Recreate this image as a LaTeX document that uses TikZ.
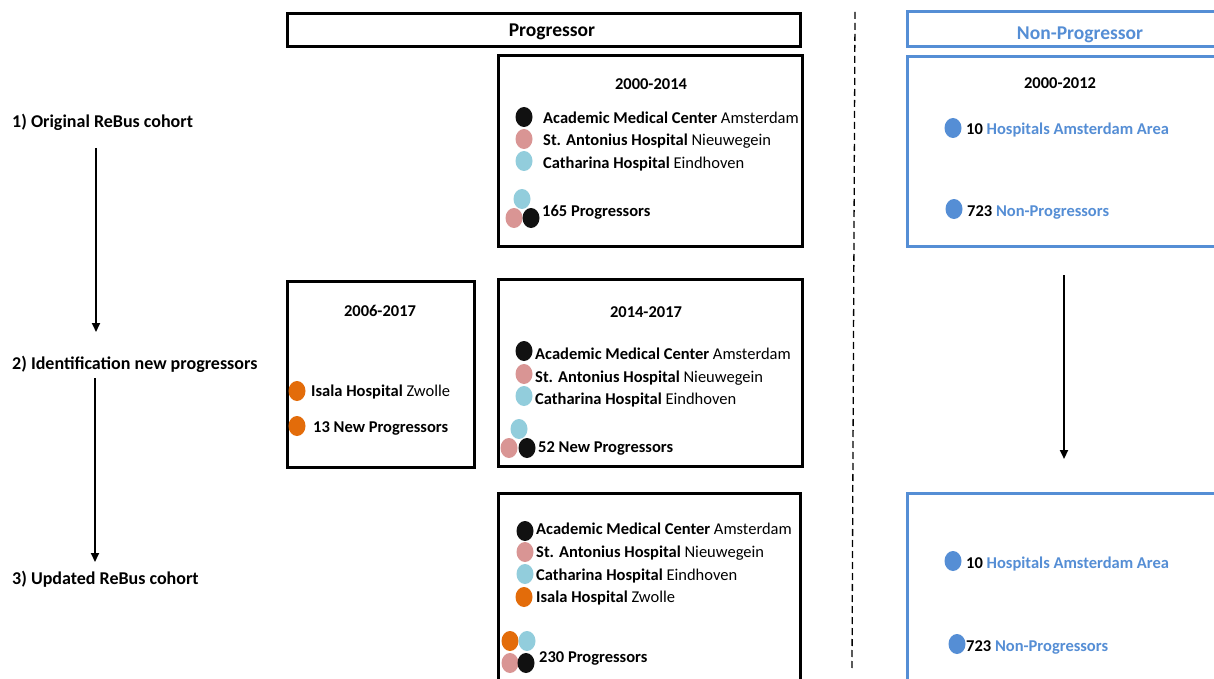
\documentclass[tikz,border=0pt]{standalone}
\usepackage{fontspec}
\setmainfont{Carlito}
\usetikzlibrary{arrows.meta,shapes.geometric}
\definecolor{amcblack}{HTML}{111111}
\definecolor{antpink}{HTML}{D99594}
\definecolor{catblue}{HTML}{92CDDC}
\definecolor{isaorange}{HTML}{E36C0A}
\definecolor{npblue}{HTML}{558ED5}
\newcommand{\bodyfont}{\fontsize{16.5}{19}\selectfont}
\newcommand{\headfont}{\fontsize{19.5}{22}\selectfont\bfseries}
\tikzset{
  frame/.style={draw=black, line width=3pt},
  npframe/.style={draw=npblue, line width=3pt},
  dot/.style={ellipse, minimum width=17pt, minimum height=20pt, inner sep=0pt, draw=none},
  txt/.style={anchor=west, inner sep=0pt, font=\bodyfont, text height=0.8em, text depth=0pt, yshift=-2.5pt},
  btxt/.style={txt, font=\bodyfont\bfseries},
  ctxt/.style={btxt, anchor=center},
  steplabel/.style={txt, font=\fontsize{18}{21}\selectfont\bfseries},
  flow/.style={line width=2pt, -{Triangle[length=9pt,width=8pt]}},
}
\begin{document}
\begin{tikzpicture}[x=1pt,y=-1pt]
\useasboundingbox (0,0) rectangle (1214,679);
\clip (0,0) rectangle (1214,679);
\fill[white] (0,0) rectangle (1214,679);

% ---- step labels and the arrows between them ----
\node[steplabel] (s1) at (12,121) {1) Original ReBus cohort};
\node[steplabel] (s2) at (12,363) {2) Identification new progressors};
\node[steplabel] (s3) at (12,578) {3) Updated ReBus cohort};
\coordinate (a1s) at (96,148);
\coordinate (a1e) at (96,332);
\coordinate (a2s) at (95,378);
\coordinate (a2e) at (95,562);
\draw[flow] (a1s) -- (a1e);
\draw[flow] (a2s) -- (a2e);

% ---- column headers ----
\node[frame, minimum width=513pt, minimum height=33pt, inner sep=0pt] (hp) at (543.5,30.5) {};
\node[ctxt, font=\headfont] (hptxt) at (552,30) {Progressor};
\node[npframe, minimum width=320pt, minimum height=35pt, inner sep=0pt] (hn) at (1067,29.5) {};
\node[ctxt, font=\headfont, text=npblue] (hntxt) at (1080,33) {Non-Progressor};

% ---- separator ----
\coordinate (sepTop) at (855,12);
\coordinate (sepBot) at (852,668);
\draw[line width=1.3pt, dash pattern=on 7pt off 4pt] (sepTop) -- (sepBot);

% ---- progressor box 2000-2014 ----
\draw[frame] (498,56) rectangle (802,246);
\node[ctxt] (y1) at (651,83) {2000-2014};
\node[dot, fill=amcblack] (b1a) at (524,117) {};
\node[dot, fill=antpink] (b1b) at (524,139) {};
\node[dot, fill=catblue] (b1c) at (524,161) {};
\node[txt] (t1a) at (543,117) {\textbf{Academic Medical Center} Amsterdam};
\node[txt] (t1b) at (543,139) {\textbf{St. Antonius Hospital} Nieuwegein};
\node[txt] (t1c) at (543,162) {\textbf{Catharina Hospital} Eindhoven};
\node[dot, fill=catblue] (c1c) at (522,199) {};
\node[dot, fill=antpink] (c1b) at (514,218) {};
\node[dot, fill=amcblack] (c1a) at (531,218) {};
\node[btxt] (t1n) at (542,210) {165 Progressors};

% ---- progressor box 2006-2017 ----
\draw[frame] (287,281) rectangle (474,467);
\node[ctxt] (y2) at (380,310) {2006-2017};
\node[dot, fill=isaorange] (b2a) at (297,391) {};
\node[txt] (t2a) at (311,390) {\textbf{Isala Hospital} Zwolle};
\node[dot, fill=isaorange] (b2b) at (297,426) {};
\node[btxt] (t2b) at (313,426) {13 New Progressors};

% ---- progressor box 2014-2017 ----
\draw[frame] (498,279) rectangle (802,466);
\node[ctxt] (y3) at (646,311) {2014-2017};
\node[dot, fill=amcblack] (b3a) at (524,351) {};
\node[dot, fill=antpink] (b3b) at (524,374) {};
\node[dot, fill=catblue] (b3c) at (524,396) {};
\node[txt] (t3a) at (535,353) {\textbf{Academic Medical Center} Amsterdam};
\node[txt] (t3b) at (535,376) {\textbf{St. Antonius Hospital} Nieuwegein};
\node[txt] (t3c) at (535,398) {\textbf{Catharina Hospital} Eindhoven};
\node[dot, fill=catblue] (c3c) at (519,429) {};
\node[dot, fill=antpink] (c3b) at (509,448) {};
\node[dot, fill=amcblack] (c3a) at (527,448) {};
\node[btxt] (t3n) at (538,446) {52 New Progressors};

% ---- updated cohort box ----
\draw[frame] (498,493) rectangle (800,690);
\node[dot, fill=amcblack] (b4a) at (525,531) {};
\node[dot, fill=antpink] (b4b) at (525,552) {};
\node[dot, fill=catblue] (b4c) at (525,574) {};
\node[dot, fill=isaorange] (b4d) at (524,597) {};
\node[txt] (t4a) at (536,528) {\textbf{Academic Medical Center} Amsterdam};
\node[txt] (t4b) at (536,551) {\textbf{St. Antonius Hospital} Nieuwegein};
\node[txt] (t4c) at (536,574) {\textbf{Catharina Hospital} Eindhoven};
\node[txt] (t4d) at (536,596) {\textbf{Isala Hospital} Zwolle};
\node[dot, fill=isaorange] (c4d) at (510,641) {};
\node[dot, fill=catblue] (c4c) at (527,641) {};
\node[dot, fill=antpink] (c4b) at (510,663) {};
\node[dot, fill=amcblack] (c4a) at (526,663) {};
\node[btxt] (t4n) at (539,656) {230 Progressors};

% ---- non-progressor boxes ----
\draw[npframe] (907,57) rectangle (1230,246);
\node[ctxt] (y5) at (1060,82) {2000-2012};
\node[dot, fill=npblue] (n1a) at (953,128) {};
\node[btxt] (u1a) at (966,128) {10 \textcolor{npblue}{Hospitals Amsterdam Area}};
\node[dot, fill=npblue] (n1b) at (954,209) {};
\node[btxt] (u1b) at (967,210) {723 \textcolor{npblue}{Non-Progressors}};

\coordinate (a3s) at (1064,275);
\coordinate (a3e) at (1064,459);
\draw[flow] (a3s) -- (a3e);

\draw[npframe] (907,493) rectangle (1230,690);
\node[dot, fill=npblue] (n2a) at (953,561) {};
\node[btxt] (u2a) at (966,562) {10 \textcolor{npblue}{Hospitals Amsterdam Area}};
\node[dot, fill=npblue] (n2b) at (957,644) {};
\node[btxt] (u2b) at (966,645) {723 \textcolor{npblue}{Non-Progressors}};
\end{tikzpicture}
\end{document}
